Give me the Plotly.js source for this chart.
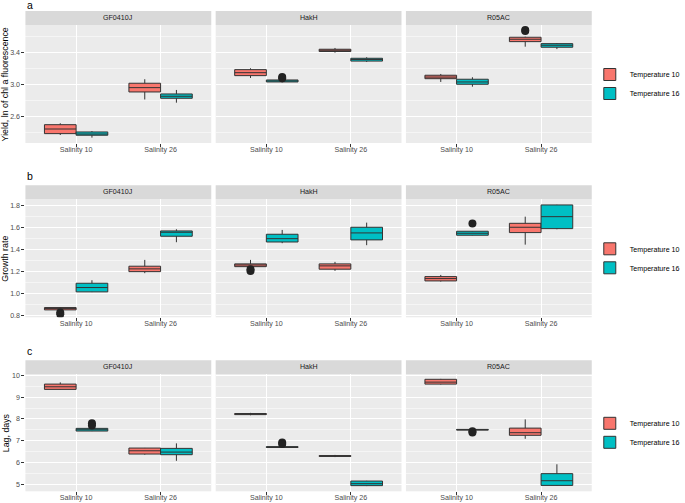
<!DOCTYPE html>
<html><head><meta charset="utf-8">
<script src="https://cdn.plot.ly/plotly-3.0.1.min.js"></script>
<style>html,body{margin:0;padding:0;background:#fff}#chart{width:685px;height:503px}</style>
</head><body><div id="chart"></div>
<script>
// ---------- data ----------
const strains = ['GF0410J', 'HakH', 'R05AC'];
const salinity = ['Salinity 10', 'Salinity 26'];
const temps = ['Temperature 10', 'Temperature 16'];
const metricTitles = ['Yield, ln of chl a fluorescence', 'Growth rate', 'Lag, days'];
const panelTags = ['a', 'b', 'c'];

// order of 12 entries: strain (GF0410J, HakH, R05AC) -> temperature (10, 16) -> salinity (10, 26)
const yieldLo  = [2.366, 2.810, 2.333, 2.770,  3.079, 3.395, 3.025, 3.279,  3.029, 3.470, 2.970, 3.440];
const yieldQ1  = [2.383, 2.904, 2.363, 2.825,  3.108, 3.410, 3.029, 3.290,  3.070, 3.533, 3.000, 3.463];
const yieldMed = [2.441, 2.958, 2.378, 2.850,  3.145, 3.425, 3.041, 3.310,  3.090, 3.563, 3.029, 3.488];
const yieldQ3  = [2.495, 3.013, 2.404, 2.879,  3.183, 3.438, 3.054, 3.325,  3.113, 3.588, 3.063, 3.508];
const yieldHi  = [2.513, 3.063, 2.416, 2.929,  3.200, 3.454, 3.058, 3.338,  3.129, 3.595, 3.088, 3.515];
const yieldOut = [[], [], [], [],  [], [], [3.090, 3.075], [],  [], [3.680, 3.665], [], []];

const growthLo  = [0.852, 1.186, 1.015, 1.466,  1.243, 1.207, 1.457, 1.439,  1.110, 1.444, 1.527, 1.583];
const growthQ1  = [0.854, 1.200, 1.017, 1.520,  1.245, 1.222, 1.468, 1.487,  1.116, 1.553, 1.529, 1.589];
const growthMed = [0.866, 1.225, 1.056, 1.556,  1.260, 1.252, 1.498, 1.550,  1.137, 1.601, 1.547, 1.697];
const growthQ3  = [0.875, 1.249, 1.095, 1.568,  1.270, 1.270, 1.538, 1.601,  1.155, 1.637, 1.565, 1.803];
const growthHi  = [0.878, 1.306, 1.122, 1.583,  1.306, 1.288, 1.577, 1.643,  1.170, 1.697, 1.567, 1.805];
const growthOut = [[0.830, 0.815], [], [], [],  [1.222, 1.205], [], [], [],  [], [], [1.636], []];

const lagLo  = [9.350, 6.360, 7.440, 6.080,  8.170, 6.250, 6.680, 4.920,  9.580, 7.090, 7.480, 4.940];
const lagQ1  = [9.358, 6.390, 7.445, 6.360,  8.200, 6.280, 6.690, 4.940,  9.600, 7.250, 7.490, 4.950];
const lagMed = [9.477, 6.540, 7.505, 6.480,  8.225, 6.300, 6.710, 5.030,  9.690, 7.370, 7.505, 5.165];
const lagQ3  = [9.600, 6.665, 7.569, 6.650,  8.250, 6.320, 6.730, 5.150,  9.820, 7.580, 7.520, 5.490];
const lagHi  = [9.680, 6.670, 7.575, 6.880,  8.280, 6.350, 6.740, 5.160,  9.840, 7.980, 7.530, 5.920];
const lagOut = [[], [], [7.800, 7.700], [],  [], [], [6.920, 6.850], [],  [], [], [7.440, 7.380], []];

// ---------- build ----------
const metrics = [
  {lo: yieldLo, q1: yieldQ1, med: yieldMed, q3: yieldQ3, hi: yieldHi, out: yieldOut},
  {lo: growthLo, q1: growthQ1, med: growthMed, q3: growthQ3, hi: growthHi, out: growthOut},
  {lo: lagLo, q1: lagQ1, med: lagMed, q3: lagQ3, hi: lagHi, out: lagOut}
];
const salIdx = salinity.map((_, i) => i);
const fills = ['#F8766D', '#00BFC4'];
const BOXGAP = 0.25;
const dodge = (1 - BOXGAP) / 4;        // centre offset of each of the two dodged boxes
const W = 685, H = 503;
const colPx = [[26, 216], [220.5, 410.5], [415, 605]];
const rowPx = [[25, 143], [199.3, 317.3], [374.3, 491.3]];
const yRanges = [[2.266, 3.741], [0.787, 1.854], [4.68, 10.05]];
const yTicks = [{dtick: 0.4, tick0: 2.6, minor: 0.2, fmt: '.1f'},
                {dtick: 0.2, tick0: 0.8, minor: 0.1, fmt: '.1f'},
                {dtick: 1, tick0: 5, minor: 0.5, fmt: 'd'}];
const FONT = 'Liberation Sans, Arial, sans-serif';

const traces = [];
const outlierTraces = [];
const layout = {
  width: W, height: H,
  margin: {l: 0, r: 0, t: 0, b: 0},
  paper_bgcolor: '#ffffff', plot_bgcolor: '#EBEBEB',
  boxmode: 'group', boxgap: BOXGAP, boxgroupgap: 0,
  font: {family: FONT, size: 7, color: '#4D4D4D'},
  shapes: [], annotations: [],
  hovermode: false
};

for (let m = 0; m < 3; m++) {
  const met = metrics[m];
  const legName = m === 0 ? 'legend' : 'legend' + (m + 1);
  for (let s = 0; s < 3; s++) {
    const n = m * 3 + s + 1;
    const xid = n === 1 ? 'x' : 'x' + n;
    const yid = n === 1 ? 'y' : 'y' + n;
    for (let t = 0; t < 2; t++) {
      const i0 = s * 4 + t * 2;
      const sl = a => a.slice(i0, i0 + 2);
      traces.push({
        type: 'box', name: temps[t], xaxis: xid, yaxis: yid,
        x: salIdx,
        q1: sl(met.q1), median: sl(met.med), q3: sl(met.q3),
        lowerfence: sl(met.lo), upperfence: sl(met.hi),
        boxpoints: false,
        alignmentgroup: 'panel' + n, offsetgroup: 'temp' + t,
        fillcolor: fills[t],
        line: {color: '#333333', width: 1},
        whiskerwidth: 0,
        showlegend: s === 2, legend: legName
      });
      // outliers
      const ox = [], oy = [];
      sl(met.out).forEach((vals, k) => vals.forEach(v => {
        ox.push(salIdx[k] + (t === 0 ? -dodge : dodge)); oy.push(v);
      }));
      if (oy.length) {
        outlierTraces.push({
          type: 'scatter', mode: 'markers', xaxis: xid, yaxis: yid,
          x: ox, y: oy, showlegend: false,
          marker: {color: '#222222', size: 8, line: {width: 0}}
        });
      }
    }
    const xk = n === 1 ? 'xaxis' : 'xaxis' + n;
    const yk = n === 1 ? 'yaxis' : 'yaxis' + n;
    layout[xk] = {
      domain: [colPx[s][0] / W, colPx[s][1] / W], anchor: yid,
      type: 'linear', tickmode: 'array', tickvals: salIdx, ticktext: salinity,
      range: [-0.6, 1.6], showgrid: true, gridcolor: '#ffffff', gridwidth: 1,
      zeroline: false, showline: false,
      ticks: 'outside', ticklen: 3, tickwidth: 1, tickcolor: '#333333',
      ticklabelstandoff: -4,
      tickfont: {family: FONT, size: 7.1, color: '#4D4D4D'}, fixedrange: true
    };
    layout[yk] = {
      domain: [1 - rowPx[m][1] / H, 1 - rowPx[m][0] / H], anchor: xid,
      range: yRanges[m], dtick: yTicks[m].dtick, tick0: yTicks[m].tick0,
      tickformat: yTicks[m].fmt,
      showgrid: true, gridcolor: '#ffffff', gridwidth: 1,
      minor: {dtick: yTicks[m].minor, tick0: yTicks[m].tick0, showgrid: true, gridcolor: '#ffffff', gridwidth: 0.5},
      zeroline: false, showline: false,
      ticks: s === 0 ? 'outside' : '', ticklen: 3, tickwidth: 1, tickcolor: '#333333',
      showticklabels: s === 0,
      tickfont: {family: FONT, size: 7.1, color: '#4D4D4D'}, fixedrange: true
    };
    // strip
    const stripH = 14 / (rowPx[m][1] - rowPx[m][0]);
    layout.shapes.push({type: 'rect', xref: xid + ' domain', yref: yid + ' domain',
      x0: 0, x1: 1, y0: 1, y1: 1 + stripH, fillcolor: '#D9D9D9', line: {width: 0}, layer: 'below'});
    layout.annotations.push({xref: xid + ' domain', yref: yid + ' domain', x: 0.5, y: 1 + stripH / 2,
      text: strains[s], showarrow: false, xanchor: 'center', yanchor: 'middle',
      font: {family: FONT, size: 7.1, color: '#1A1A1A'}});
  }
  // y title
  layout.annotations.push({xref: 'paper', yref: 'paper', x: 5.5 / W,
    y: 1 - (rowPx[m][0] + rowPx[m][1]) / 2 / H, text: metricTitles[m], textangle: -90,
    showarrow: false, xanchor: 'center', yanchor: 'middle',
    font: {family: FONT, size: 8.8, color: '#000000'}});
  // tag
  layout.annotations.push({xref: 'paper', yref: 'paper', x: 26 / W,
    y: 1 - Math.max(rowPx[m][0] - 23, 5) / H, text: panelTags[m], showarrow: false,
    xanchor: 'left', yanchor: 'middle', font: {family: FONT, size: 10.5, color: '#000000'}});
  // legend
  layout[legName] = {x: 603 / W, xanchor: 'left',
    y: 1 - (rowPx[m][0] + rowPx[m][1]) / 2 / H, yanchor: 'middle',
    bgcolor: 'rgba(0,0,0,0)', font: {family: FONT, size: 7.1, color: '#000000'},
    tracegroupgap: 0};
}

Plotly.newPlot('chart', traces.concat(outlierTraces), layout, {staticPlot: true, displayModeBar: false});
</script>
</body></html>
